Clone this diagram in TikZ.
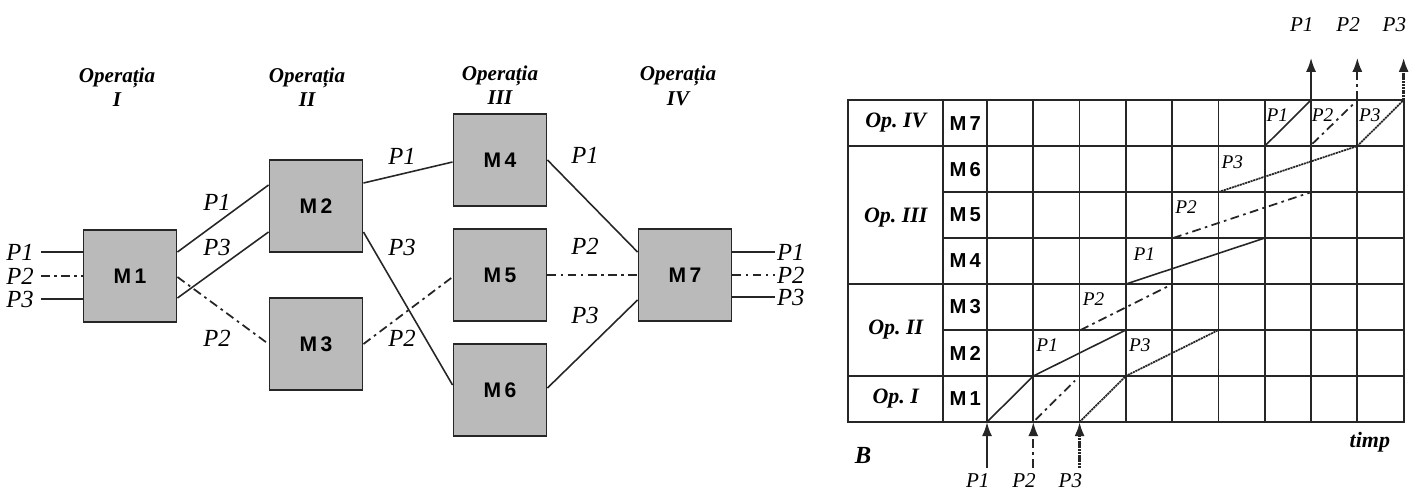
\documentclass[tikz,border=0pt]{standalone}
\usepackage{fontspec}
\setmainfont{Liberation Serif}
\setsansfont{Liberation Sans}
\usetikzlibrary{calc,arrows.meta}
\tikzset{>={Latex[length=0.28cm,width=0.2cm]}}
\tikzset{
  mbox/.style={draw=black!85, line width=1.1pt, fill=black!27, minimum width=1.86cm,
    minimum height=1.84cm, inner sep=0pt, font=\sffamily\bfseries\fontsize{12}{12}\selectfont},
  optitle/.style={font=\bfseries\itshape\fontsize{12}{14}\selectfont, align=center},
  plab/.style={font=\itshape\fontsize{14}{14}\selectfont, inner sep=1pt},
  glab/.style={font=\itshape\fontsize{11}{11}\selectfont, inner sep=0pt},
  tlab/.style={font=\itshape\fontsize{12}{12}\selectfont, inner sep=0pt},
  oplab/.style={font=\bfseries\itshape\fontsize{12.5}{12.5}\selectfont},
  mlab/.style={font=\sffamily\bfseries\fontsize{11.5}{11.5}\selectfont},
  gridline/.style={line width=1pt, black!85},
  solidflow/.style={line width=0.9pt, black!85},
  dashdot/.style={line width=1pt, black!85, dash pattern=on 5pt off 2.5pt on 1.5pt off 2.5pt},
  dotflow/.style={line width=1pt, black!85, dash pattern=on 1.2pt off 0.4pt},
}

\begin{document}
\begin{tikzpicture}[x=0.02cm,y=-0.02cm]
\useasboundingbox (0,0) rectangle (1419,498);

% Operations and machines
\node[optitle] (tI) at (117,87) {Operația\\I};
\node[optitle] (tII) at (307,87) {Operația\\II};
\node[optitle] (tIII) at (500,85) {Operația\\III};
\node[optitle] (tIV) at (678,86) {Operația\\IV};

\node[mbox] (M1) at (130,276) {M\,1};
\node[mbox] (M2) at (316,206) {M\,2};
\node[mbox] (M3) at (316,344) {M\,3};
\node[mbox] (M4) at (500,160) {M\,4};
\node[mbox] (M5) at (500,275) {M\,5};
\node[mbox] (M6) at (500,390) {M\,6};
\node[mbox] (M7) at (685,275) {M\,7};

% inputs
\node[plab] (in1) at (20,252) {P1};
\node[plab] (in2) at (20,276) {P2};
\node[plab] (in3) at (20,299) {P3};
\draw[solidflow] ($(in1.east)+(5,0)$) -- (in1.east -| M1.west);
\draw[dashdot] ($(in2.east)+(5,0)$) -- (in2.east -| M1.west);
\draw[solidflow] ($(in3.east)+(5,0)$) -- (in3.east -| M1.west);

% operation I -> II
\draw[solidflow] ($(M1.east)+(0,-24)$) -- ($(M2.west)+(0,-21)$);
\draw[solidflow] ($(M1.east)+(0,22)$) -- ($(M2.west)+(0,26)$);
\draw[dashdot] ($(M1.east)+(0,1)$) -- (M3.west);
\node[plab] (a1) at (217,202) {P1};
\node[plab] (a3) at (217,247) {P3};
\node[plab] (a2) at (217,338) {P2};

% operation II -> III
\draw[solidflow] ($(M2.east)+(0,-23)$) -- ($(M4.west)+(0,2)$);
\draw[solidflow] ($(M2.east)+(0,26)$) -- ($(M6.west)+(0,-5)$);
\draw[dashdot] (M3.east) -- ($(M5.west)+(0,2)$);
\node[plab] (b1) at (402,156) {P1};
\node[plab] (b3) at (402,247) {P3};
\node[plab] (b2) at (402,338) {P2};

% operation III -> IV
\draw[solidflow] (M4.east) -- ($(M7.west)+(0,-23)$);
\draw[dashdot] (M5.east) -- (M7.west);
\draw[solidflow] ($(M6.east)+(0,-2)$) -- ($(M7.west)+(0,25)$);
\node[plab] (c1) at (585,155) {P1};
\node[plab] (c2) at (585,246) {P2};
\node[plab] (c3) at (585,315) {P3};

% outputs
\node[plab, anchor=west] (out1) at (775,252) {P1};
\node[plab, anchor=west] (out2) at (775,275) {P2};
\node[plab, anchor=west] (out3) at (775,297) {P3};
\draw[solidflow] (out1.west -| M7.east) -- (out1.west);
\draw[dashdot] (out2.west -| M7.east) -- (out2.west);
\draw[solidflow] (out3.west -| M7.east) -- (out3.west);

% Gantt chart B
\begin{scope}[shift={(987,422)}, x=0.926cm, y=0.92cm]
  \draw[gridline] (-3,0) rectangle (9,7);
  \draw[gridline] (-0.95,0) -- (-0.95,7);
  \foreach \i in {0,...,8}
    \draw[gridline] (\i,0) -- (\i,7);
  \foreach \j in {1,3,6}
    \draw[gridline] (-3,\j) -- (9,\j);
  \foreach \j in {2,4,5}
    \draw[gridline] (-0.95,\j) -- (9,\j);

  \node[oplab] (gI) at (-1.97,0.5) {Op.~I};
  \node[oplab] (gII) at (-1.97,2) {Op.~II};
  \node[oplab] (gIII) at (-1.97,4.45) {Op.~III};
  \node[oplab] (gIV) at (-1.97,6.5) {Op.~IV};
  \foreach \j in {1,...,7}
    \node[mlab] (m\j) at (-0.47,\j-0.5) {M\,\j};

  % P1
  \draw[solidflow] (0,0) -- (1,1) -- (3,2);
  \draw[solidflow] (3,3) -- (6,4);
  \draw[solidflow] (6,6) -- (7,7);
  % P2
  \draw[dashdot] (1.05,0.05) -- (1.9,0.9);
  \draw[dashdot] (2.02,2) -- (3.97,2.98);
  \draw[dashdot] (4.02,4) -- (6.98,4.99);
  \draw[dashdot] (7.03,6.05) -- (7.9,6.9);
  % P3
  \draw[dotflow] (2,0) -- (3,1) -- (5,2);
  \draw[dotflow] (5,5) -- (8,6) -- (9,7);

  \node[glab] (q1) at (1.3,1.67) {P1};
  \node[glab] (q2) at (2.3,2.67) {P2};
  \node[glab] (q3) at (3.3,1.67) {P3};
  \node[glab] (q4) at (3.4,3.64) {P1};
  \node[glab] (q5) at (4.3,4.67) {P2};
  \node[glab] (q6) at (5.3,5.65) {P3};
  \node[glab] (q7) at (6.27,6.67) {P1};
  \node[glab] (q8) at (7.25,6.67) {P2};
  \node[glab] (q9) at (8.27,6.67) {P3};

  % entries and exits
  \draw[->, solidflow, line width=1.2pt] (0,-1) -- (0,0);
  \draw[->, dashdot, line width=1.2pt] (1,-1) -- (1,0);
  \draw[->, dotflow, line width=1.4pt] (2,-1) -- (2,0);
  \node[tlab] (e1) at (-0.2,-1.27) {P1};
  \node[tlab] (e2) at (0.8,-1.27) {P2};
  \node[tlab] (e3) at (1.8,-1.27) {P3};
  \draw[->, solidflow, line width=1.2pt] (7,7) -- (7,7.92);
  \draw[->, dashdot, line width=1.2pt] (8,7) -- (8,7.92);
  \draw[->, dotflow, line width=1.4pt] (9,7) -- (9,7.92);
  \node[tlab] (x1) at (6.8,8.65) {P1};
  \node[tlab] (x2) at (7.8,8.65) {P2};
  \node[tlab] (x3) at (8.8,8.65) {P3};

  \node[oplab, font=\bfseries\itshape\fontsize{14}{14}\selectfont] (bB) at (-2.68,-0.72) {B};
  \node[oplab] (timp) at (8.27,-0.43) {timp};
\end{scope}
\end{tikzpicture}
\end{document}
